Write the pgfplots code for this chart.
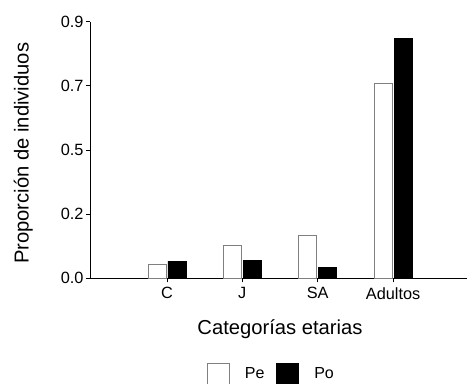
\documentclass[border=0pt]{standalone}
\usepackage{pgfplots}
\pgfplotsset{compat=1.18}
\usepackage{fontspec}
\setmainfont{Liberation Sans}
\begin{document}
\begin{tikzpicture}
\begin{axis}[
  scale only axis,
  width=377bp, height=256.6bp,
  ybar=2bp, bar width=18bp,
  xmin=-1.02, xmax=3.98,
  ymin=0, ymax=0.9,
  enlargelimits=false,
  axis x line*=bottom, axis y line*=left,
  axis line style={line width=0.8bp, black},
  xtick={0,1,2,3},
  xticklabels={C,J,SA,Adultos},
  ytick={0,0.225,0.45,0.675,0.9},
  yticklabels={0.0,0.2,0.5,0.7,0.9},
  tick align=outside,
  major tick length=4bp,
  tick style={line width=0.8bp, black},
  /pgf/number format/assume math mode=true,
  ticklabel style={font=\fontsize{16.3bp}{19bp}\selectfont},
  xticklabel style={yshift=-1.5bp},
  yticklabel style={xshift=1bp},
  xlabel={Categorías etarias},
  ylabel={Proporción de individuos},
  label style={font=\fontsize{20.2bp}{24bp}\selectfont},
  xlabel style={at={(axis description cs:0.504,-0.162)}, anchor=north, inner sep=0pt},
  ylabel style={at={(axis description cs:-0.151,0.487)}, anchor=south, inner sep=0pt},
  legend columns=2,
  legend style={draw=none, fill=none, at={(axis description cs:0.478,-0.371)}, anchor=center,
    font=\fontsize{16bp}{19bp}\selectfont,
    nodes={inner sep=0pt},
    /tikz/every odd column/.append style={column sep=15.5bp},
    /tikz/every even column/.append style={column sep=11.5bp}},
  legend image code/.code={\draw[#1] (0bp,-10.5bp) rectangle (22bp,10.5bp);},
]
\addplot[draw=black!50, fill=white, line width=0.8bp] coordinates {(0,0.049) (1,0.117) (2,0.152) (3,0.685)};
\addplot[draw=black, fill=black, line width=0.8bp] coordinates {(0,0.060) (1,0.064) (2,0.039) (3,0.842)};
\legend{Pe,Po}
\end{axis}
\pgfresetboundingbox
\useasboundingbox (-90bp,-105.7bp) rectangle (378bp,278.3bp);
\end{tikzpicture}
\end{document}
